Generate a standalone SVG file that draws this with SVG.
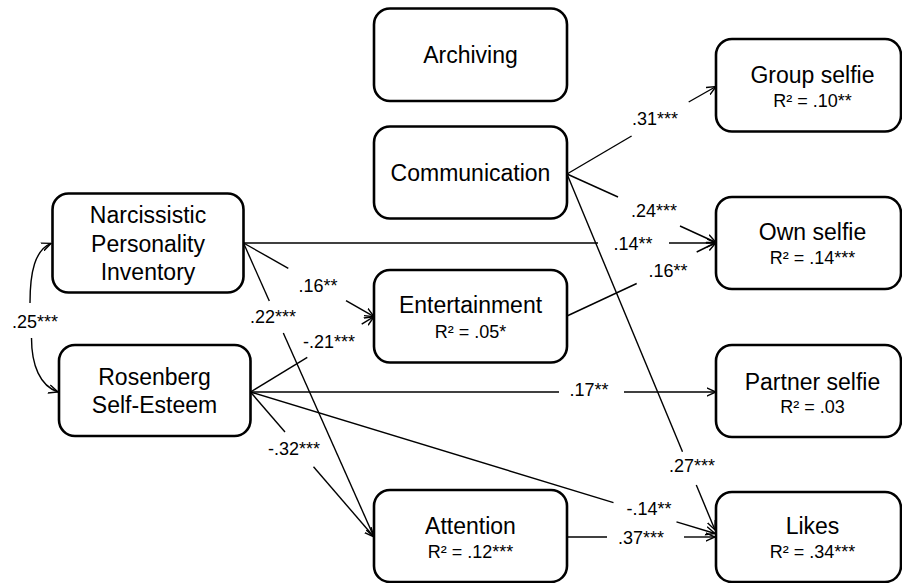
<svg xmlns="http://www.w3.org/2000/svg" width="902" height="583" viewBox="0 0 902 583">
<defs>
<marker id="arr" viewBox="0 0 10 10" refX="9.5" refY="5" markerWidth="10" markerHeight="10" markerUnits="userSpaceOnUse" orient="auto">
<path d="M0,0.8 L9.5,5 L0,9.2" fill="none" stroke="#000" stroke-width="1.4"/>
</marker>
<style>
.box{fill:#fff;stroke:#000;stroke-width:2.6}
.t{font-family:"Liberation Sans",Arial,sans-serif;font-size:23px;fill:#000;text-anchor:middle}
.r{font-family:"Liberation Sans",Arial,sans-serif;font-size:18px;fill:#000;text-anchor:middle}
.l{font-family:"Liberation Sans",Arial,sans-serif;font-size:18px;fill:#000;text-anchor:middle}
.c{fill:none;stroke:#000;stroke-width:1.4}
</style>
</defs>
<rect width="902" height="583" fill="#fff"/>
<g id="connectors">
<!-- NPI -> Own selfie -->
<path class="c" d="M244,243 L598,243"/>
<path class="c" d="M669,243 L716,243" marker-end="url(#arr)"/>
<text class="l" x="633" y="249.5">.14**</text>
<!-- Communication -> Group selfie -->
<path class="c" d="M567,174 L631.6,136"/>
<path class="c" d="M688.7,102 L716,86.5" marker-end="url(#arr)"/>
<text class="l" x="655" y="125">.31***</text>
<!-- Communication -> Own selfie -->
<path class="c" d="M567,174 L618,197"/>
<path class="c" d="M680,226 L716,242.5" marker-end="url(#arr)"/>
<text class="l" x="654" y="216.5">.24***</text>
<!-- Communication -> Likes -->
<path class="c" d="M567,174 L682.5,451.7"/>
<path class="c" d="M696.3,485 L715,530" marker-end="url(#arr)"/>
<text class="l" x="692" y="471.5">.27***</text>
<!-- Entertainment -> Own selfie -->
<path class="c" d="M567,316 L636.7,283.5"/>
<path class="c" d="M696.7,252 L716,242.5" marker-end="url(#arr)"/>
<text class="l" x="668" y="277">.16**</text>
<!-- NPI -> Entertainment -->
<path class="c" d="M243.5,243 L288.3,268.3"/>
<path class="c" d="M346,300.7 L374,316.7" marker-end="url(#arr)"/>
<text class="l" x="318" y="291.7">.16**</text>
<!-- NPI -> Attention -->
<path class="c" d="M243.5,243 L269.3,301"/>
<path class="c" d="M283.3,333 L374,537" marker-end="url(#arr)"/>
<text class="l" x="273" y="323">.22***</text>
<!-- RSE -> Entertainment -->
<path class="c" d="M250.5,392 L307.3,357.4"/>
<path class="c" d="M361.7,324.2 L374,316.7" marker-end="url(#arr)"/>
<text class="l" x="329" y="348">-.21***</text>
<!-- RSE -> Partner selfie -->
<path class="c" d="M250.5,392 L559,392"/>
<path class="c" d="M624,392 L716,392" marker-end="url(#arr)"/>
<text class="l" x="589" y="396">.17**</text>
<!-- RSE -> Attention -->
<path class="c" d="M250.5,392 L285,432"/>
<path class="c" d="M313.5,466.7 L374,537" marker-end="url(#arr)"/>
<text class="l" x="294" y="455">-.32***</text>
<!-- RSE -> Likes -->
<path class="c" d="M250.5,392 L613.5,502.6"/>
<path class="c" d="M676.5,521.8 L715,533.5" marker-end="url(#arr)"/>
<text class="l" x="649" y="515">-.14**</text>
<!-- Attention -> Likes -->
<path class="c" d="M567,537 L607,537"/>
<path class="c" d="M684,537 L715,537" marker-end="url(#arr)"/>
<text class="l" x="641" y="543.5">.37***</text>
<!-- NPI <-> RSE correlation -->
<path class="c" d="M30,303 C30,272 35,250 51,243.3" marker-end="url(#arr)"/>
<path class="c" d="M31.5,338 C31.5,365 40,386 58,392" marker-end="url(#arr)"/>
<text class="l" x="35" y="328">.25***</text>
</g>
<g id="archiving">
<rect class="box" x="374" y="8.5" width="193" height="92.5" rx="16"/>
<text class="t" x="470.5" y="63">Archiving</text>
</g>
<g id="communication">
<rect class="box" x="374" y="126.5" width="193" height="92" rx="16"/>
<text class="t" x="470.5" y="181">Communication</text>
</g>
<g id="entertainment">
<rect class="box" x="374" y="270" width="193" height="92.5" rx="16"/>
<text class="t" x="470.5" y="313">Entertainment</text>
<text class="r" x="470.5" y="337.5">R² = .05*</text>
</g>
<g id="attention">
<rect class="box" x="374" y="490" width="193" height="92" rx="16"/>
<text class="t" x="470.5" y="534">Attention</text>
<text class="r" x="470.5" y="558">R² = .12***</text>
</g>
<g id="npi">
<rect class="box" x="52.5" y="193.5" width="191" height="99" rx="16"/>
<text class="t" x="148" y="223">Narcissistic</text>
<text class="t" x="148" y="251.5">Personality</text>
<text class="t" x="148" y="280">Inventory</text>
</g>
<g id="rse">
<rect class="box" x="59" y="345" width="191.5" height="91" rx="16"/>
<text class="t" x="154.5" y="385">Rosenberg</text>
<text class="t" x="154.5" y="413">Self-Esteem</text>
</g>
<g id="group-selfie">
<rect class="box" x="716" y="39" width="185" height="92.5" rx="16"/>
<text class="t" x="812.5" y="82.5">Group selfie</text>
<text class="r" x="812.5" y="107">R² = .10**</text>
</g>
<g id="own-selfie">
<rect class="box" x="716" y="197" width="185" height="92" rx="16"/>
<text class="t" x="812.5" y="240">Own selfie</text>
<text class="r" x="812.5" y="263.5">R² = .14***</text>
</g>
<g id="partner-selfie">
<rect class="box" x="716" y="345" width="185" height="92" rx="16"/>
<text class="t" x="812.5" y="390">Partner selfie</text>
<text class="r" x="812.5" y="413">R² = .03</text>
</g>
<g id="likes">
<rect class="box" x="716" y="492" width="185" height="90" rx="16"/>
<text class="t" x="812.5" y="534">Likes</text>
<text class="r" x="812.5" y="558">R² = .34***</text>
</g>
</svg>
